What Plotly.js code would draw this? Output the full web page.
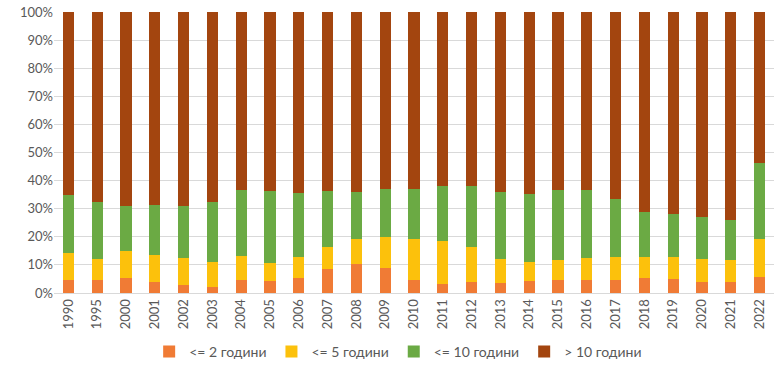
<!DOCTYPE html>
<html>
<head>
<meta charset="utf-8">
<script src="https://cdn.plot.ly/plotly-3.0.1.min.js"></script>
<style>html,body{margin:0;padding:0;background:#fff;}#chart{width:776px;height:377px;}</style>
</head>
<body>
<div id="chart"></div>
<script>
const years = ['1990','1995','2000','2001','2002','2003','2004','2005','2006','2007','2008','2009','2010','2011','2012','2013','2014','2015','2016','2017','2018','2019','2020','2021','2022'];
const seriesNames = ['<= 2 години', '<= 5 години', '<= 10 години', '> 10 години'];
const upTo2 =  [4.5, 4.5, 5.3, 3.9, 2.7, 2.1, 4.5, 4.3, 5.3, 8.5, 10.2, 8.8, 4.6, 3.3, 3.9, 3.7, 4.3, 4.5, 4.5, 4.8, 5.3, 4.9, 3.9, 3.9, 5.7];
const upTo5 =  [9.6, 7.7, 9.5, 9.6, 9.9, 8.8, 8.7, 6.3, 7.5, 7.9, 9.0, 11.0, 14.6, 15.3, 12.5, 8.3, 6.6, 7.2, 7.8, 8.0, 7.5, 7.9, 8.3, 7.7, 13.4];
const upTo10 = [20.7, 20.1, 16.2, 17.7, 18.4, 21.4, 23.3, 25.7, 22.9, 19.9, 16.7, 17.1, 17.7, 19.4, 21.6, 24.1, 24.2, 24.8, 24.2, 20.7, 16.0, 15.2, 15.0, 14.3, 27.1];
const over10 = [65.2, 67.7, 69.0, 68.8, 69.0, 67.7, 63.5, 63.7, 64.3, 63.7, 64.1, 63.1, 63.1, 62.0, 62.0, 63.9, 64.9, 63.5, 63.5, 66.5, 71.2, 72.0, 72.8, 74.1, 53.8];
const colors = ['#F07B35', '#FCC10C', '#6BAA44', '#A3450F'];
const yTickVals = [0,10,20,30,40,50,60,70,80,90,100];
const yTickText = ['0%','10%','20%','30%','40%','50%','60%','70%','80%','90%','100%'];

const vals = [upTo2, upTo5, upTo10, over10];
const traces = vals.map((v, i) => ({
  type: 'bar',
  x: years,
  y: v,
  name: seriesNames[i],
  marker: {color: colors[i], line: {width: 0}},
  hoverinfo: 'x+y+name'
}));

const layout = {
  width: 776, height: 377,
  barmode: 'stack',
  barnorm: 'percent',
  bargap: 0.61,
  margin: {l: 54, r: 2, t: 12, b: 84},
  paper_bgcolor: '#ffffff',
  plot_bgcolor: '#ffffff',
  font: {family: 'Lato, "Open Sans", sans-serif', size: 13, color: '#595959'},
  xaxis: {
    type: 'category',
    tickangle: -90,
    showgrid: false,
    showline: true,
    linecolor: '#d9d9d9',
    linewidth: 1,
    ticks: '',
    tickfont: {size: 13, color: '#595959'},
    automargin: false
  },
  yaxis: {
    range: [0, 100],
    tickvals: yTickVals,
    ticktext: yTickText,
    showgrid: true,
    gridcolor: '#d9d9d9',
    gridwidth: 1,
    zeroline: false,
    showline: false,
    ticks: '',
    tickfont: {size: 13, color: '#595959'},
    automargin: false
  },
  legend: {
    orientation: 'h',
    x: 0.478, xanchor: 'center',
    y: -0.21, yanchor: 'middle',
    font: {size: 14, color: '#595959'},
    itemwidth: 30,
    traceorder: 'normal'
  },
  showlegend: true
};

Plotly.newPlot('chart', traces, layout, {displayModeBar: false, staticPlot: true});
</script>
</body>
</html>
